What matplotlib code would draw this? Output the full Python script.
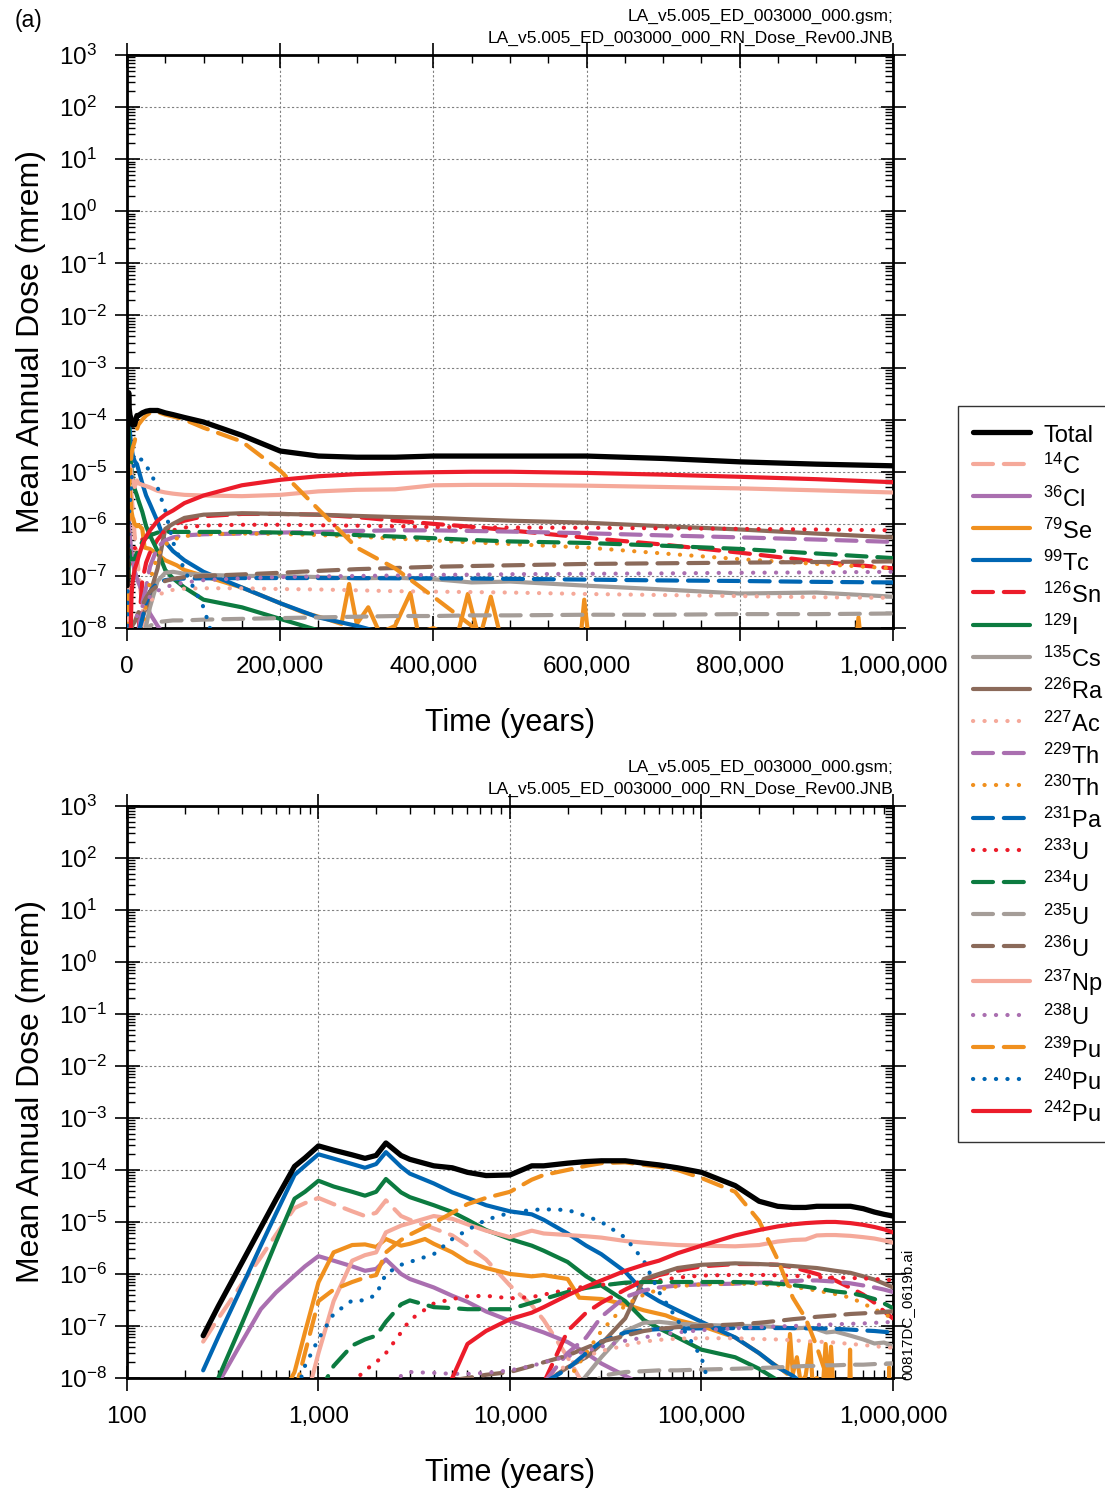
import numpy as np
import matplotlib
matplotlib.use("Agg")
import matplotlib.pyplot as plt
from matplotlib.ticker import FuncFormatter, MultipleLocator, LogLocator, NullFormatter

plt.rcParams["font.family"] = ["Liberation Sans", "DejaVu Sans"]
plt.rcParams["mathtext.fontset"] = "custom"
plt.rcParams["mathtext.rm"] = "Liberation Sans"
plt.rcParams["mathtext.it"] = "Liberation Sans:italic"
plt.rcParams["mathtext.bf"] = "Liberation Sans:bold"

NA = np.nan

# shared time grid (years)
years = [
    250, 300, 400, 500, 600, 750, 850, 1000,
    1200, 1500, 1750, 2000, 2250, 2700, 3000,
    4000, 5000, 6000, 7500, 10000,
    13000, 15000, 20000, 25000, 30000,
    40000, 50000, 60000, 75000, 100000,
    150000, 200000, 250000, 300000, 350000,
    400000, 450000, 500000, 600000, 700000,
    800000, 900000, 1000000,
]

total = [
    6.5e-8, 2.4e-7, 1.7e-6, 7.8e-6, 2.7e-5, 1.17e-4, 1.7e-4, 2.9e-4,
    2.4e-4, 1.95e-4, 1.67e-4, 1.9e-4, 3.3e-4, 1.9e-4, 1.6e-4,
    1.2e-4, 1.1e-4, 9e-5, 7.8e-5, 8e-5,
    1.2e-4, 1.2e-4, 1.35e-4, 1.45e-4, 1.5e-4,
    1.5e-4, 1.35e-4, 1.25e-4, 1.1e-4, 9e-5,
    5e-5, 2.5e-5, 2.0e-5, 1.9e-5, 1.9e-5,
    2.0e-5, 2.0e-5, 2.0e-5, 2.0e-5, 1.8e-5,
    1.55e-5, 1.4e-5, 1.3e-5,
]
c14 = [
    5e-8, 1.4e-7, 6.6e-7, 2.1e-6, 5.7e-6, 1.85e-5, 2.3e-5, 2.9e-5,
    2.2e-5, 1.6e-5, 1.3e-5, 1.5e-5, 2.6e-5, 1.3e-5, 1.1e-5,
    7.5e-6, 5.5e-6, 3.5e-6, 1.9e-6, 6e-7,
    2.5e-7, 1.3e-7, 2.5e-8, 6e-9, NA,
    NA, NA, NA, NA, NA,
    NA, NA, NA, NA, NA,
    NA, NA, NA, NA, NA,
    NA, NA, NA,
]
cl36 = [
    NA, 8e-9, 5.1e-8, 2.1e-7, 4.4e-7, 9.3e-7, 1.4e-6, 2.2e-6,
    1.8e-6, 1.4e-6, 1.15e-6, 1.25e-6, 1.9e-6, 1.0e-6, 8e-7,
    5.5e-7, 3.8e-7, 2.9e-7, 1.9e-7, 1.25e-7,
    9e-8, 7.5e-8, 4.9e-8, 3e-8, 1.9e-8,
    1.1e-8, 7e-9, NA, NA, NA,
    NA, NA, NA, NA, NA,
    NA, NA, NA, NA, NA,
    NA, NA, NA,
]
tc99 = [
    1.4e-8, 6.2e-8, 5.9e-7, 3.5e-6, 1.45e-5, 8e-5, 1.2e-4, 2.0e-4,
    1.65e-4, 1.3e-4, 1.1e-4, 1.3e-4, 2.2e-4, 1.15e-4, 8.5e-5,
    5.5e-5, 3.7e-5, 2.9e-5, 2.1e-5, 1.6e-5,
    1.4e-5, 1.1e-5, 6e-6, 3.5e-6, 2.4e-6,
    1.1e-6, 4.5e-7, 3e-7, 2e-7, 1.2e-7,
    6e-8, 3e-8, 1.6e-8, 1.1e-8, 7e-9,
    NA, NA, NA, NA, NA,
    NA, NA, NA,
]
sn126 = [
    NA, NA, NA, NA, NA, NA, NA, NA,
    NA, NA, NA, NA, NA, NA, NA,
    NA, NA, NA, NA, NA,
    NA, 8e-9, 8e-8, 1.8e-7, 2.8e-7,
    5e-7, 7.5e-7, 9.5e-7, 1.15e-6, 1.4e-6,
    1.55e-6, 1.55e-6, 1.5e-6, 1.35e-6, 1.15e-6,
    1.0e-6, 8.8e-7, 7.5e-7, 5.4e-7, 4e-7,
    2.8e-7, 1.9e-7, 1.4e-7,
]
i129 = [
    NA, 1e-8, 1.15e-7, 8.1e-7, 4.1e-6, 2.8e-5, 3.8e-5, 6.2e-5,
    4.8e-5, 3.8e-5, 3.2e-5, 3.8e-5, 6.7e-5, 3.7e-5, 3e-5,
    2.1e-5, 1.55e-5, 1.1e-5, 7e-6, 4.7e-6,
    3.5e-6, 2.8e-6, 1.7e-6, 9e-7, 6e-7,
    3e-7, 1.3e-7, 9e-8, 6e-8, 3.5e-8,
    2.5e-8, 1.5e-8, 9e-9, NA, NA,
    NA, NA, NA, NA, NA,
    NA, NA, NA,
]
cs135 = [
    NA, NA, NA, NA, NA, NA, NA, NA,
    NA, NA, NA, NA, NA, NA, NA,
    NA, NA, NA, NA, NA,
    NA, NA, 4e-9, 1.1e-8, 2.5e-8,
    8e-8, 1.15e-7, 1.2e-7, 1.1e-7, 1.05e-7,
    1.0e-7, 1.0e-7, 9.5e-8, 9e-8, 9.2e-8,
    8.7e-8, 7.5e-8, 7.8e-8, 6.5e-8, 5.5e-8,
    4.6e-8, 4.8e-8, 4e-8,
]
ra226 = [
    NA, NA, NA, NA, NA, NA, NA, NA,
    NA, NA, NA, NA, NA, NA, NA,
    NA, NA, NA, NA, NA,
    NA, 8e-9, 1.6e-8, 2.5e-8, 4.5e-8,
    1.4e-7, 8e-7, 1.0e-6, 1.3e-6, 1.5e-6,
    1.6e-6, 1.55e-6, 1.5e-6, 1.42e-6, 1.35e-6,
    1.3e-6, 1.22e-6, 1.15e-6, 1.05e-6, 9e-7,
    7.8e-7, 6.5e-7, 5.5e-7,
]
ac227 = [
    NA, NA, NA, NA, NA, NA, NA, NA,
    NA, NA, NA, NA, NA, NA, NA,
    NA, NA, NA, NA, NA,
    NA, 9e-9, 1.8e-8, 2.6e-8, 3.3e-8,
    4.2e-8, 5e-8, 5.4e-8, 5.7e-8, 5.8e-8,
    5.8e-8, 5.6e-8, 5.5e-8, 5.3e-8, 5.1e-8,
    5e-8, 4.9e-8, 4.8e-8, 4.5e-8, 4.3e-8,
    4.1e-8, 3.9e-8, 3.8e-8,
]
th229 = [
    NA, NA, NA, NA, NA, NA, NA, NA,
    NA, NA, NA, NA, NA, NA, NA,
    NA, NA, NA, NA, NA,
    NA, 8e-9, 3e-8, 6e-8, 1.5e-7,
    3.6e-7, 4.8e-7, 5.5e-7, 6e-7, 6.3e-7,
    6.5e-7, 6.8e-7, 7e-7, 7.3e-7, 7.5e-7,
    7.5e-7, 7.3e-7, 7.1e-7, 6.6e-7, 6e-7,
    5.5e-7, 5e-7, 4.5e-7,
]
th230 = [
    NA, NA, NA, NA, NA, NA, NA, NA,
    NA, NA, NA, NA, NA, NA, NA,
    NA, NA, NA, NA, NA,
    NA, NA, 9e-9, 3e-8, 8e-8,
    2.5e-7, 4e-7, 5e-7, 5.8e-7, 6.3e-7,
    6.5e-7, 6.4e-7, 6.1e-7, 5.7e-7, 5.2e-7,
    4.8e-7, 4.4e-7, 4.1e-7, 3.5e-7, 2.7e-7,
    2.1e-7, 1.7e-7, 1.4e-7,
]
pa231 = [
    NA, NA, NA, NA, NA, NA, NA, NA,
    NA, NA, NA, NA, NA, NA, NA,
    NA, NA, NA, NA, NA,
    NA, 8e-9, 1.5e-8, 3e-8, 5e-8,
    7.5e-8, 8.3e-8, 8.7e-8, 8.9e-8, 9e-8,
    9.1e-8, 9.1e-8, 9.1e-8, 9.1e-8, 9e-8,
    9e-8, 8.9e-8, 8.8e-8, 8.5e-8, 8.2e-8,
    8e-8, 7.7e-8, 7.5e-8,
]
u233 = [
    NA, NA, NA, NA, NA, NA, NA, NA,
    NA, 8e-9, 1.4e-8, 2e-8, 3e-8, 7.5e-8, 1.3e-7,
    2.7e-7, 3.3e-7, 3.7e-7, 3.8e-7, 3.4e-7,
    3.6e-7, 4e-7, 5e-7, 5.8e-7, 6.2e-7,
    6.6e-7, 7e-7, 7.5e-7, 8.5e-7, 9.3e-7,
    9.6e-7, 9.6e-7, 9.4e-7, 9.2e-7, 9e-7,
    8.7e-7, 8.6e-7, 8.5e-7, 8.4e-7, 8.2e-7,
    8e-7, 7.8e-7, 7.5e-7,
]
u234 = [
    NA, NA, NA, NA, NA, NA, NA, 5e-9,
    1.7e-8, 4.2e-8, 5.5e-8, 6.5e-8, 1.2e-7, 2.6e-7, 3.1e-7,
    2.3e-7, 2.2e-7, 2.1e-7, 2.1e-7, 2.1e-7,
    2.8e-7, 3.3e-7, 4.5e-7, 5.4e-7, 6e-7,
    6.8e-7, 7e-7, 7e-7, 7e-7, 7e-7,
    7e-7, 6.8e-7, 6.5e-7, 6.1e-7, 5.7e-7,
    5.3e-7, 4.9e-7, 4.6e-7, 4.3e-7, 3.8e-7,
    3.3e-7, 2.7e-7, 2.2e-7,
]
u235 = [
    NA, NA, NA, NA, NA, NA, NA, NA,
    NA, NA, NA, NA, NA, NA, NA,
    NA, NA, NA, NA, NA,
    NA, NA, NA, 5e-9, 1.1e-8,
    1.3e-8, 1.35e-8, 1.4e-8, 1.4e-8, 1.45e-8,
    1.5e-8, 1.55e-8, 1.6e-8, 1.65e-8, 1.7e-8,
    1.7e-8, 1.75e-8, 1.75e-8, 1.8e-8, 1.8e-8,
    1.85e-8, 1.85e-8, 1.9e-8,
]
u236 = [
    NA, NA, NA, NA, NA, NA, NA, NA,
    NA, NA, NA, NA, NA, NA, NA,
    NA, 9e-9, 1e-8, 1.15e-8, 1.3e-8,
    1.7e-8, 2e-8, 2.7e-8, 3.8e-8, 5e-8,
    6.5e-8, 8e-8, 8.8e-8, 9.5e-8, 1e-7,
    1.07e-7, 1.15e-7, 1.25e-7, 1.35e-7, 1.42e-7,
    1.5e-7, 1.55e-7, 1.6e-7, 1.7e-7, 1.75e-7,
    1.8e-7, 1.85e-7, 1.9e-7,
]
np237 = [
    NA, NA, NA, NA, NA, NA, 3e-9, 3e-8,
    3e-7, 1.8e-6, 2.3e-6, 2.6e-6, 6.3e-6, 8.5e-6, 9.5e-6,
    1.3e-5, 1.15e-5, 9e-6, 6.8e-6, 5.1e-6,
    6.8e-6, 6e-6, 5.6e-6, 5.3e-6, 5e-6,
    4.3e-6, 4e-6, 3.8e-6, 3.6e-6, 3.5e-6,
    3.4e-6, 3.6e-6, 4.2e-6, 4.5e-6, 4.6e-6,
    5.5e-6, 5.6e-6, 5.6e-6, 5.4e-6, 5.1e-6,
    4.8e-6, 4.4e-6, 4e-6,
]
u238 = [
    NA, NA, NA, NA, NA, NA, NA, NA,
    NA, NA, NA, NA, 5e-9, 1.1e-8, 1.3e-8,
    1.25e-8, 1.2e-8, 1.2e-8, 1.25e-8, 1.4e-8,
    1.7e-8, 2e-8, 2.6e-8, 3.3e-8, 4e-8,
    5.2e-8, 6e-8, 6.8e-8, 7.5e-8, 8.3e-8,
    9e-8, 9.5e-8, 9.8e-8, 1e-7, 1.02e-7,
    1.05e-7, 1.06e-7, 1.08e-7, 1.1e-7, 1.12e-7,
    1.15e-7, 1.17e-7, 1.2e-7,
]
pu239 = [
    NA, NA, NA, NA, NA, 5e-9, 3e-8, 3e-7,
    5e-7, 7e-7, 8.5e-7, 9.5e-7, 2.6e-6, 4.5e-6, 5.7e-6,
    9.6e-6, 1.5e-5, 2.2e-5, 2.9e-5, 3.8e-5,
    6.5e-5, 8e-5, 1e-4, 1.2e-4, 1.35e-4,
    1.4e-4, 1.25e-4, 1.15e-4, 1e-4, 7e-5,
    3.8e-5, 1.05e-5, 1.9e-6, 3.5e-7, 1.4e-7,
    4e-8, 1.1e-8, 3e-9, NA, NA,
    NA, NA, NA,
]
pu240 = [
    NA, NA, NA, NA, NA, 4e-9, 1.7e-8, 5.6e-8,
    1.7e-7, 3.1e-7, 3.1e-7, 4e-7, 1e-6, 1.5e-6, 1.7e-6,
    2.4e-6, 4.7e-6, 7e-6, 1.1e-5, 1.5e-5,
    1.7e-5, 1.75e-5, 1.7e-5, 1.3e-5, 1e-5,
    5e-6, 1.8e-6, 4.5e-7, 1.3e-7, 2.5e-8,
    1e-10, NA, NA, NA, NA,
    NA, NA, NA, NA, NA,
    NA, NA, NA,
]
pu242 = [
    NA, NA, NA, NA, NA, NA, NA, NA,
    NA, NA, NA, NA, NA, NA, NA,
    3e-9, 1e-8, 4.5e-8, 8e-8, 1.35e-7,
    1.8e-7, 2.3e-7, 3.9e-7, 5.7e-7, 7.5e-7,
    1.15e-6, 1.5e-6, 1.8e-6, 2.5e-6, 3.5e-6,
    5.5e-6, 7e-6, 8.2e-6, 9e-6, 9.5e-6,
    9.8e-6, 1e-5, 1e-5, 9.5e-6, 8.8e-6,
    8e-6, 7.2e-6, 6.3e-6,
]

# 79Se is noisy at late times, so it has its own time points
se79_years = [
    700, 750, 850, 1000, 1200, 1500, 1750, 2000, 2250, 2700, 3000, 3600,
    4000, 5000, 6000, 7500, 10000, 13000, 15000, 20000, 23000, 30000,
    40000, 50000, 65000, 75000, 100000, 150000, 200000, 230000, 260000,
    280000, 290000, 300000, 315000, 330000, 350000, 370000, 380000,
    400000, 430000, 445000, 460000, 475000, 490000, 500000, 590000,
    597000, 605000, 950000, 955000, 960000,
]
se79 = [
    8e-9, 1.3e-8, 7.5e-8, 6.9e-7, 2.6e-6, 3.6e-6, 3.7e-6, 3.3e-6, 4.7e-6, 3.5e-6, 3.8e-6, 4.7e-6,
    3.8e-6, 2.6e-6, 1.7e-6, 1.3e-6, 1e-6, 9e-7, 9.5e-7, 8e-7, 3.5e-7, 3.3e-7,
    2.6e-7, 2e-7, 1.6e-7, 1.3e-7, 1e-7, 6e-8, 3e-8, 2e-8, 1.5e-8,
    1.2e-8, 7e-8, 1.2e-8, 2.5e-8, 8e-9, 1.1e-8, 4.7e-8, 8e-9,
    1e-8, 6e-9, 4.5e-8, 6e-9, 4e-8, 5e-9, 3e-9, 3e-9,
    3.5e-8, 3e-9, 3e-9, 1.6e-8, 3e-9,
]

PINK = "#F5A99A"
PURPLE = "#AA6FB0"
ORANGE = "#F0901E"
BLUE = "#0066B3"
RED = "#EC1C2A"
GREEN = "#0C7B40"
GRAY = "#A59D98"
BROWN = "#8B6A5A"

series = [
    ("Total", years, total, "black", "solid"),
    (r"$^{14}$C", years, c14, PINK, "dashed"),
    (r"$^{36}$Cl", years, cl36, PURPLE, "solid"),
    (r"$^{79}$Se", se79_years, se79, ORANGE, "solid"),
    (r"$^{99}$Tc", years, tc99, BLUE, "solid"),
    (r"$^{126}$Sn", years, sn126, RED, "dashed"),
    (r"$^{129}$I", years, i129, GREEN, "solid"),
    (r"$^{135}$Cs", years, cs135, GRAY, "solid"),
    (r"$^{226}$Ra", years, ra226, BROWN, "solid"),
    (r"$^{227}$Ac", years, ac227, PINK, "dotted"),
    (r"$^{229}$Th", years, th229, PURPLE, "dashed"),
    (r"$^{230}$Th", years, th230, ORANGE, "dotted"),
    (r"$^{231}$Pa", years, pa231, BLUE, "dashed"),
    (r"$^{233}$U", years, u233, RED, "dotted"),
    (r"$^{234}$U", years, u234, GREEN, "dashed"),
    (r"$^{235}$U", years, u235, GRAY, "dashed"),
    (r"$^{236}$U", years, u236, BROWN, "dashed"),
    (r"$^{237}$Np", years, np237, PINK, "solid"),
    (r"$^{238}$U", years, u238, PURPLE, "dotted"),
    (r"$^{239}$Pu", years, pu239, ORANGE, "dashed"),
    (r"$^{240}$Pu", years, pu240, BLUE, "dotted"),
    (r"$^{242}$Pu", years, pu242, RED, "solid"),
]

LINE_STYLES = {
    "solid": dict(linestyle="-", solid_capstyle="round"),
    "dashed": dict(linestyle=(0, (4.8, 2.6)), dash_capstyle="round"),
    "dotted": dict(linestyle=(0, (0.05, 2.7)), dash_capstyle="round"),
}


def draw_lines(ax):
    lines = []
    for i, (label, x, y, color, style) in enumerate(series):
        lw = 3.8 if label == "Total" else 3.0
        z = 10 if label == "Total" else 3 + i * 0.01
        (ln,) = ax.plot(x, y, color=color, linewidth=lw, label=label,
                        zorder=z, **LINE_STYLES[style])
        lines.append(ln)
    return lines


def style_axes(ax):
    ax.set_yscale("log")
    ax.set_ylim(1e-8, 1e3)
    ax.yaxis.set_major_locator(LogLocator(base=10, numticks=20))
    ax.yaxis.set_minor_locator(LogLocator(base=10, subs=np.arange(2, 10), numticks=20))
    ax.yaxis.set_minor_formatter(NullFormatter())
    ax.tick_params(which="major", direction="inout", length=18, width=1.2,
                   labelsize=17.5, top=True, right=True)
    ax.tick_params(which="minor", direction="in", length=6, width=1.0,
                   top=True, right=True)
    # y labels are left-aligned like "10" blocks with the exponent trailing
    ax.tick_params(axis="y", which="major", pad=40)
    ax.tick_params(axis="x", which="major", pad=11)
    for sp in ax.spines.values():
        sp.set_linewidth(2)
    ax.grid(True, which="major", linestyle=(0, (2, 2)), color="#808080", linewidth=0.8)
    ax.set_axisbelow(True)
    ax.set_ylabel("Mean Annual Dose (mrem)", fontsize=23, labelpad=9)
    ax.set_xlabel("Time (years)", fontsize=22, labelpad=22)


comma = FuncFormatter(lambda v, p: f"{v:,.0f}")

fig = plt.figure(figsize=(11.05, 14.90), dpi=100)
ax_top = fig.add_axes([0.1149, 0.5785, 0.6932, 0.3846])
ax_bot = fig.add_axes([0.1149, 0.0752, 0.6932, 0.3839])

handles = draw_lines(ax_top)
draw_lines(ax_bot)

style_axes(ax_top)
ax_top.set_xlim(0, 1e6)
ax_top.xaxis.set_major_locator(MultipleLocator(200000))
ax_top.xaxis.set_minor_locator(MultipleLocator(50000))
ax_top.xaxis.set_major_formatter(comma)

style_axes(ax_bot)
ax_bot.set_xscale("log")
ax_bot.set_xlim(100, 1e6)
ax_bot.xaxis.set_major_locator(LogLocator(base=10, numticks=10))
ax_bot.xaxis.set_minor_locator(LogLocator(base=10, subs=np.arange(2, 10), numticks=10))
ax_bot.xaxis.set_minor_formatter(NullFormatter())
ax_bot.xaxis.set_major_formatter(comma)

for ax in (ax_top, ax_bot):
    for lbl in ax.get_yticklabels():
        lbl.set_horizontalalignment("left")

# file stamps
for ytop in (1 - 16 / 1490, 1 - 767 / 1490):
    fig.text(0.8081, ytop, "LA_v5.005_ED_003000_000.gsm;", ha="right", va="center", fontsize=12.5)
    fig.text(0.8081, ytop - 22 / 1490, "LA_v5.005_ED_003000_000_RN_Dose_Rev00.JNB",
             ha="right", va="center", fontsize=12.5)

fig.text(15 / 1105, 1 - 20 / 1490, "(a)", ha="left", va="center", fontsize=16.5)
fig.text(907 / 1105, 1 - 1314 / 1490, "00817DC_0619b.ai", rotation=90,
         ha="center", va="center", fontsize=11)

leg = fig.legend(handles=handles, loc="upper left", bbox_to_anchor=(958 / 1105, 1 - 406 / 1490),
                 fontsize=17, frameon=True, fancybox=False, borderaxespad=0,
                 handlelength=2.4, handleheight=1.3, handletextpad=0.55,
                 labelspacing=0.27, borderpad=0.65)
leg.get_frame().set_edgecolor("black")
leg.get_frame().set_linewidth(1.0)
for ln in leg.get_lines():
    ln.set_linewidth(3.8 if ln.get_label() == "Total" else 3.0)

fig.savefig("out.png", dpi=100)
